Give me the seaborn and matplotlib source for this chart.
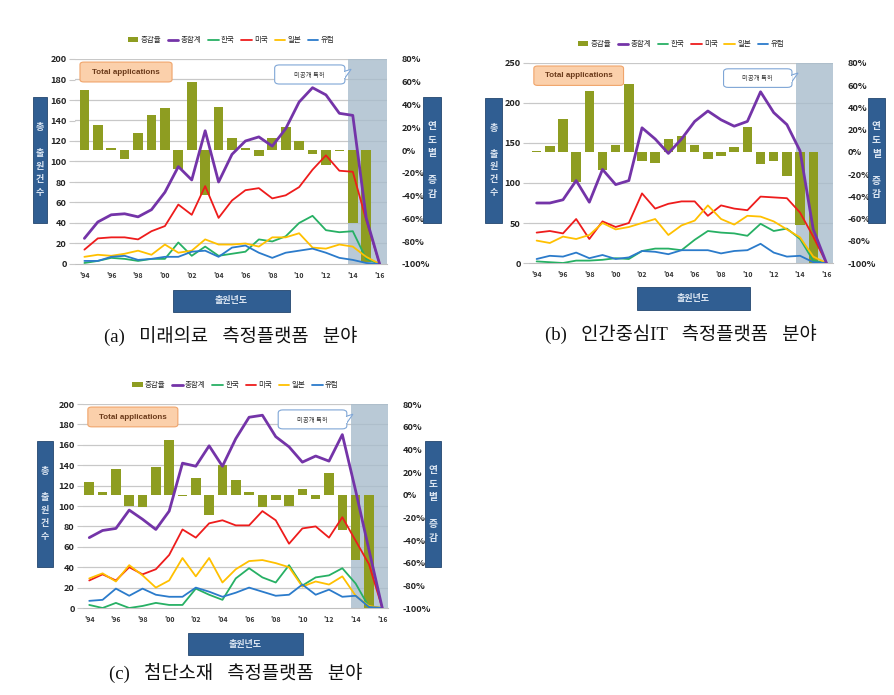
import numpy as np
import pandas as pd
import seaborn as sns
import matplotlib.pyplot as plt
from matplotlib.patches import Rectangle, FancyBboxPatch, Polygon

# 연도 / 눈금
years = list(range(1994, 2017))
bar_years = list(range(1994, 2016))
year_ticks = list(range(1994, 2017, 2))
year_labels = ["'94", "'96", "'98", "'00", "'02", "'04", "'06", "'08", "'10", "'12", "'14", "'16"]
pct_ticks = [-100, -80, -60, -40, -20, 0, 20, 40, 60, 80]
legend_order = ['증감율', '총합계', '한국', '미국', '일본', '유럽']

# (a) 미래의료 측정플랫폼 분야
a_rate = [53, 22, 2, -8, 15, 31, 37, -17, 60, -39, 38, 11, 2, -5, 11, 20, 8, -3, -13, -1, -64, -98]
a_total = [25, 41, 48, 49, 46, 53, 70, 95, 82, 130, 80, 107, 120, 124, 115, 132, 158, 172, 165, 147, 145, 45, 0]
a_kr = [1, 3, 6, 5, 3, 5, 5, 21, 8, 17, 8, 10, 12, 24, 22, 27, 40, 47, 33, 31, 32, 5, 0]
a_us = [14, 25, 26, 26, 24, 32, 37, 58, 48, 76, 45, 62, 72, 74, 64, 67, 75, 92, 106, 91, 90, 43, 0]
a_jp = [7, 9, 8, 10, 13, 9, 19, 11, 13, 24, 19, 19, 20, 17, 26, 26, 30, 16, 15, 19, 17, 7, 0]
a_eu = [3, 3, 7, 8, 4, 5, 7, 7, 12, 13, 7, 16, 18, 11, 6, 11, 13, 15, 11, 6, 4, 1, 0]

# (b) 인간중심IT 측정플랫폼 분야
b_rate = [1, 5, 30, -27, 55, -16, 6, 61, -8, -10, 12, 14, 6, -6, -4, 4, 22, -11, -8, -22, -66, -100]
b_total = [75, 75, 79, 103, 76, 117, 98, 103, 169, 155, 137, 155, 177, 190, 179, 171, 177, 214, 188, 173, 140, 42, 0]
b_kr = [2, 1, 0, 3, 3, 4, 6, 5, 15, 18, 18, 16, 29, 40, 38, 37, 34, 49, 40, 43, 30, 3, 0]
b_us = [38, 40, 37, 55, 30, 52, 45, 50, 87, 68, 74, 77, 77, 59, 72, 68, 66, 83, 82, 81, 63, 33, 0]
b_jp = [28, 25, 33, 30, 35, 50, 42, 45, 50, 55, 35, 47, 53, 72, 55, 48, 59, 58, 52, 42, 32, 8, 0]
b_eu = [5, 9, 8, 13, 6, 10, 5, 7, 15, 14, 11, 16, 16, 16, 12, 15, 16, 24, 13, 8, 9, 1, 0]

# (c) 첨단소재 측정플랫폼 분야
c_rate = [11, 2, 23, -10, -11, 24, 48, -1, 15, -18, 26, 13, 2, -11, -5, -10, 5, -4, 19, -31, -58, -100]
c_total = [69, 76, 78, 96, 87, 77, 95, 142, 139, 159, 139, 166, 187, 189, 168, 158, 143, 149, 144, 170, 115, 57, 0]
c_kr = [3, 0, 5, 0, 2, 5, 3, 3, 19, 13, 8, 29, 39, 30, 25, 42, 22, 30, 32, 39, 24, 1, 0]
c_us = [27, 33, 27, 40, 33, 38, 52, 77, 69, 83, 86, 81, 81, 95, 86, 63, 78, 80, 69, 89, 66, 43, 0]
c_jp = [29, 34, 26, 42, 32, 20, 27, 49, 31, 49, 25, 38, 46, 47, 44, 40, 21, 26, 23, 31, 12, 2, 0]
c_eu = [7, 8, 19, 12, 19, 13, 11, 11, 20, 16, 11, 15, 20, 16, 12, 13, 23, 13, 18, 11, 12, 1, 0]

OLIVE = '#8e9d21'
PURPLE = '#7434a8'
GREEN = '#27b064'
RED = '#ee1c1c'
YELLOW = '#ffc000'
BLUE = '#2b7bcb'
NAVY = '#305e92'
GRID = '#c8c8c8'

sns.set_style('white')
plt.rcParams['font.family'] = ['Noto Sans CJK KR', 'DejaVu Sans']

W, H = 895, 695
fig = plt.figure(figsize=(W / 100, H / 100), dpi=100)


def fx(x):
    return x / W


def fy(y):
    return 1 - y / H


def label_box(x0, y0, x1, y1, text, size=6.5, spacing=1.0):
    fig.add_artist(Rectangle((fx(x0), fy(y1)), fx(x1 - x0), (y1 - y0) / H,
                             transform=fig.transFigure, fc=NAVY, ec='#24476f', lw=0.6))
    fig.text(fx((x0 + x1) / 2), fy((y0 + y1) / 2), text, ha='center', va='center',
             color='#dce6f2', fontsize=size, linespacing=spacing, fontweight='bold')


def panel(box, rate, total, kr, us, jp, eu, ymax, ystep, xlim, caption, cap_y,
          lbox, rbox, bbox_px):
    x0, y0, x1, y1 = box
    ax = fig.add_axes([fx(x0), fy(y1), fx(x1 - x0), (y1 - y0) / H])

    # 그리드 (왼쪽 축 눈금 위치)
    left_ticks = list(range(0, ymax + 1, ystep))
    for v in left_ticks[1:]:
        ax.axhline(-100 + v * 180 / ymax, color=GRID, lw=0.9, zorder=0)

    ax.axvspan(2013.68, xlim[1], color='#a8bccc', alpha=0.8, lw=0, zorder=0.5)

    sns.barplot(x=bar_years, y=rate, native_scale=True, color=OLIVE, width=0.72,
                saturation=1, linewidth=0, label='증감율', ax=ax, zorder=2)
    if ax.get_legend() is not None:
        ax.get_legend().remove()
    ax.set_ylim(-100, 80)
    ax.set_xlim(*xlim)

    ax2 = ax.twinx()
    for vals, col, name, lw in [(kr, GREEN, '한국', 1.3), (us, RED, '미국', 1.3),
                                (jp, YELLOW, '일본', 1.3), (eu, BLUE, '유럽', 1.3),
                                (total, PURPLE, '총합계', 2.0)]:
        sns.lineplot(x=years, y=vals, color=col, lw=lw, label=name, ax=ax2, zorder=3)
    if ax2.get_legend() is not None:
        ax2.get_legend().remove()
    ax2.set_ylim(0, ymax)
    ax2.set_xlim(*xlim)

    # 축 방향: 증감율은 오른쪽, 출원건수는 왼쪽
    ax.yaxis.tick_right()
    ax.set_yticks(pct_ticks)
    ax.set_yticklabels([f'{p}%' for p in pct_ticks])
    ax.tick_params(axis='y', which='both', left=False, right=False, labelleft=False,
                   labelright=True, pad=7, labelsize=6.6, labelcolor='#222222')
    ax2.yaxis.tick_left()
    ax2.set_yticks(left_ticks)
    ax2.tick_params(axis='y', left=True, right=False, labelleft=True, labelright=False,
                    length=4, color=GRID, pad=2, labelsize=6.6, labelcolor='#222222')

    for a in (ax, ax2):
        a.set_xlabel('')
        a.set_ylabel('')
        for s in a.spines.values():
            s.set_visible(False)
        for t in a.get_yticklabels():
            t.set_fontweight('bold')
    ax.spines['bottom'].set_visible(True)
    ax.spines['bottom'].set_color('#bfbfbf')

    ax.set_xticks(year_ticks)
    ax.set_xticklabels(year_labels)
    ax.set_xticks(years, minor=True)
    ax.tick_params(axis='x', which='both', length=2.5, color='#bfbfbf', labelsize=5,
                   pad=3, labelcolor='#333333')
    for t in ax.get_xticklabels():
        t.set_fontweight('bold')

    # 범례
    h1, l1 = ax.get_legend_handles_labels()
    h2, l2 = ax2.get_legend_handles_labels()
    hd = dict(zip(l1 + l2, h1 + h2))
    ax2.legend([hd[k] for k in legend_order], legend_order, ncol=6, loc='lower center',
               bbox_to_anchor=(0.5, 1.04), frameon=False, fontsize=5.4, handlelength=1.4,
               handletextpad=0.3, columnspacing=0.9, handleheight=0.6)

    # Total applications
    ax2.add_patch(FancyBboxPatch((0.016, 0.888), 0.295, 0.097,
                                 boxstyle='round,pad=0,rounding_size=0.012',
                                 transform=ax2.transAxes, fc='#fbd0ab', ec='#f0a46a',
                                 lw=0.8, zorder=4, clip_on=False))
    ax2.text(0.163, 0.936, 'Total applications', transform=ax2.transAxes, ha='center',
             va='center', fontsize=5.8, fontweight='bold', color='#6b3a1a',
             family=['Liberation Sans', 'DejaVu Sans'], zorder=5)

    # 미공개 특허
    ax2.add_patch(FancyBboxPatch((0.64, 0.878), 0.225, 0.093,
                                 boxstyle='round,pad=0,rounding_size=0.015',
                                 transform=ax2.transAxes, fc='white', ec='#7fa6d6',
                                 lw=0.8, zorder=4))
    ax2.add_patch(Polygon([(0.864, 0.94), (0.885, 0.95), (0.864, 0.905)], closed=True,
                          transform=ax2.transAxes, fc='white', ec='#7fa6d6', lw=0.8, zorder=4))
    ax2.add_patch(Rectangle((0.858, 0.907), 0.008, 0.03, transform=ax2.transAxes,
                            fc='white', ec='none', zorder=4.5))
    ax2.text(0.752, 0.924, '미공개 특허', transform=ax2.transAxes, ha='center', va='center',
             fontsize=4.6, color='#333333', zorder=5)

    label_box(*lbox, '총\n\n출\n원\n건\n수', size=6.5, spacing=1.55)
    label_box(*rbox, '연\n도\n별\n\n증\n감', size=7, spacing=1.45)
    label_box(*bbox_px, '출원년도', size=6.5)

    fig.text(fx((x0 + x1) / 2), fy(cap_y), caption, ha='center', va='center',
             fontsize=13.5, family=['Liberation Serif', 'Noto Sans CJK KR'], color='#111111')


panel((75, 59, 387, 264), a_rate, a_total, a_kr, a_us, a_jp, a_eu, 200, 20,
      (1993.3, 2016.55), '(a)   미래의료   측정플랫폼   분야', 337,
      (33, 97, 47, 223), (423, 97, 441, 223), (173, 290, 290, 312))
panel((529, 63, 833, 263), b_rate, b_total, b_kr, b_us, b_jp, b_eu, 250, 50,
      (1993.42, 2016.5), '(b)   인간중심IT   측정플랫폼   분야', 335,
      (485, 98, 502, 223), (868, 98, 885, 223), (637, 287, 750, 310))
panel((83, 404, 388, 608), c_rate, c_total, c_kr, c_us, c_jp, c_eu, 200, 20,
      (1993.53, 2016.43), '(c)   첨단소재   측정플랫폼   분야', 673,
      (37, 441, 53, 567), (425, 441, 441, 567), (188, 633, 303, 655))

fig.savefig('out.png', dpi=100, facecolor='white')
